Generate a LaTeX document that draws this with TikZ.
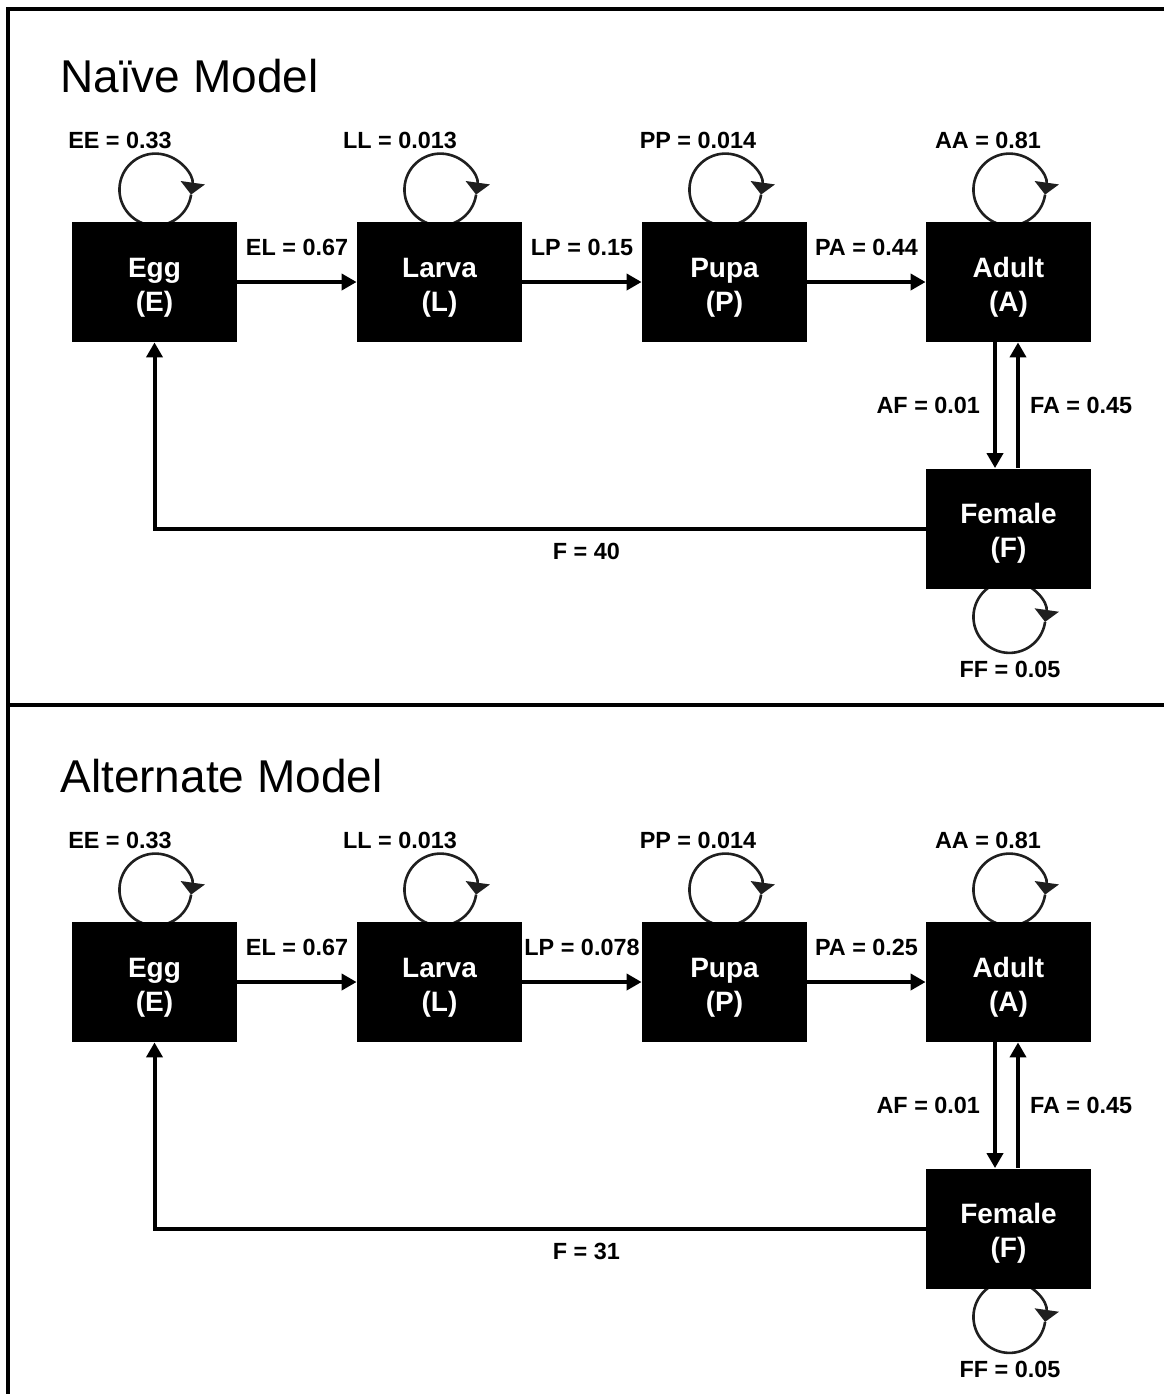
\documentclass[tikz,border=0pt]{standalone}
\usepackage{fontspec}
\setmainfont{Liberation Sans}
\usetikzlibrary{arrows.meta,backgrounds}
\begin{document}
\begin{tikzpicture}[x=0.5pt,y=-0.5pt]
  \tikzset{stage/.style={fill=black,text=white,minimum width=82.5pt,minimum height=60pt,inner sep=0pt,align=center,font=\fontsize{14}{17}\selectfont\bfseries},
    rate/.style={font=\fontsize{11.7}{13}\selectfont\bfseries,inner sep=0pt},
    conn/.style={line width=2pt,-{Triangle[length=7.5pt,width=8pt]}},
    selfloop/.style={line width=1.3pt,black!88,-{Triangle[length=6pt,width=12pt]}},
    frame/.style={line width=1.6pt}}
  \useasboundingbox (0,0) rectangle (1164,1394);
  \draw[frame] (1164,9) -- (8,9) -- (8,1394);
  \draw[frame] (8,705) -- (1164,705);
  \foreach \oy/\ttl/\lp/\pa/\fv [count=\i] in {0/Naïve Model/0.15/0.44/40,700/Alternate Model/0.078/0.25/31}{
    \node[anchor=base west,inner sep=0pt,font=\fontsize{23}{27}\selectfont] (title\i) at (60,92+\oy) {\ttl};
    \node[stage] (egg\i) at (154.5,282+\oy) {\rule{0pt}{15pt}Egg\\(E)};
    \node[stage] (larva\i) at (439.5,282+\oy) {\rule{0pt}{15pt}Larva\\(L)};
    \node[stage] (pupa\i) at (724.5,282+\oy) {\rule{0pt}{15pt}Pupa\\(P)};
    \node[stage] (adult\i) at (1008.5,282+\oy) {\rule{0pt}{15pt}Adult\\(A)};
    \node[stage] (female\i) at (1008.5,528.5+\oy) {\rule{0pt}{15pt}Female\\(F)};
    % self loops go behind the boxes
    \begin{scope}[on background layer]
    \foreach \s in {egg,larva,pupa,adult}
      \draw[selfloop] ([shift={(18.3pt,13.5pt)}]\s\i.north) arc[start angle=8,end angle=368,radius=36];
    \draw[selfloop] ([shift={(18.3pt,-16.5pt)}]female\i.south) arc[start angle=8,end angle=368,radius=36];
    \end{scope}
    \node[rate] (ee\i) at (120,140+\oy) {EE = 0.33};
    \node[rate] (ll\i) at (400,140+\oy) {LL = 0.013};
    \node[rate] (pp\i) at (698,140+\oy) {PP = 0.014};
    \node[rate] (aa\i) at (988,140+\oy) {AA = 0.81};
    \node[rate] (ff\i) at (1010,669+\oy) {FF = 0.05};
    \draw[conn] (egg\i) -- (larva\i) node[rate,midway,above=12pt] {EL = 0.67};
    \draw[conn] (larva\i) -- (pupa\i) node[rate,midway,above=12pt] {LP = \lp};
    \draw[conn] (pupa\i) -- (adult\i) node[rate,midway,above=12pt] {PA = \pa};
    \draw[conn] ([xshift=-6.75pt]adult\i.south) -- ([xshift=-6.75pt]female\i.north) node[rate,midway,left=6.5pt] {AF = 0.01};
    \draw[conn] ([xshift=4.75pt]female\i.north) -- ([xshift=4.75pt]adult\i.south) node[rate,midway,right=5pt] {FA = 0.45};
    \draw[conn] (female\i.west) -| (egg\i.south) node[rate,pos=0.22,below=6.5pt] {F = \fv};
  }
\end{tikzpicture}
\end{document}
